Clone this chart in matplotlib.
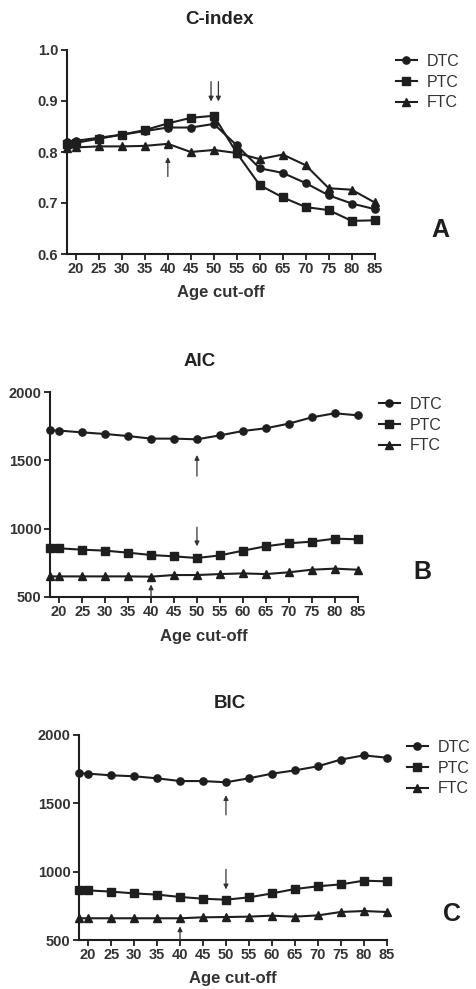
import matplotlib
matplotlib.use("Agg")
import matplotlib.pyplot as plt

plt.rcParams['font.family'] = ['Liberation Sans', 'DejaVu Sans']

# data
ages = [18, 20, 25, 30, 35, 40, 45, 50, 55, 60, 65, 70, 75, 80, 85]
xticks = [20, 25, 30, 35, 40, 45, 50, 55, 60, 65, 70, 75, 80, 85]
series = ['DTC', 'PTC', 'FTC']

cindex_dtc = [0.820, 0.822, 0.828, 0.834, 0.841, 0.848, 0.848, 0.855, 0.813, 0.768, 0.759, 0.739, 0.715, 0.699, 0.688]
cindex_ptc = [0.815, 0.818, 0.826, 0.834, 0.843, 0.856, 0.867, 0.871, 0.798, 0.735, 0.711, 0.692, 0.686, 0.665, 0.666]
cindex_ftc = [0.808, 0.809, 0.811, 0.811, 0.812, 0.816, 0.800, 0.804, 0.798, 0.786, 0.795, 0.774, 0.729, 0.726, 0.701]

aic_dtc = [1721, 1719, 1706, 1694, 1679, 1660, 1660, 1655, 1684, 1716, 1736, 1770, 1816, 1846, 1831]
aic_ptc = [860, 855, 845, 838, 823, 806, 796, 784, 803, 838, 870, 892, 904, 926, 921]
aic_ftc = [649, 649, 649, 649, 649, 647, 659, 659, 666, 671, 666, 679, 698, 706, 698]

bic_dtc = [1720, 1717, 1705, 1698, 1683, 1663, 1663, 1654, 1683, 1717, 1741, 1771, 1820, 1851, 1834]
bic_ptc = [866, 863, 854, 841, 832, 815, 802, 795, 812, 841, 873, 893, 907, 934, 929]
bic_ftc = [659, 659, 659, 659, 659, 659, 666, 668, 671, 678, 671, 680, 705, 712, 705]

W, H = 476, 989
fig = plt.figure(figsize=(W / 100, H / 100), dpi=100)

markers = {'DTC': ('o', 5.2), 'PTC': ('s', 5.4), 'FTC': ('^', 5.2)}
col = '#1e1e1e'


def panel(box, data, ylim, yticks, yfmt, title, title_xy, letter, letter_xy, leg_xy, xlab_y, arrows):
    l, t, r, b = box
    ax = fig.add_axes([l / W, 1 - b / H, (r - l) / W, (b - t) / H])
    for name, ys in zip(series, data):
        m, ms = markers[name]
        ax.plot(ages, ys, marker=m, ms=ms, color=col, lw=1.5, label=name, clip_on=False)
    ax.set_xlim(18, 85)
    ax.set_ylim(*ylim)
    ax.set_xticks(xticks)
    ax.set_yticks(yticks)
    ax.set_yticklabels([yfmt.format(v) for v in yticks])
    for s in ['top', 'right']:
        ax.spines[s].set_visible(False)
    for s in ['left', 'bottom']:
        ax.spines[s].set_linewidth(1.5)
        ax.spines[s].set_color(col)
    ax.tick_params(direction='out', length=4, width=1.3, color=col, pad=2)
    for lab in ax.get_xticklabels() + ax.get_yticklabels():
        lab.set_fontweight('bold')
        lab.set_fontsize(10.5)
        lab.set_color('#333333')
    for (x, y0, y1) in arrows:
        ax.annotate('', xy=(x, y1), xytext=(x, y0),
                    arrowprops=dict(arrowstyle='-|>', lw=0.9, color='#333333', mutation_scale=7,
                                    shrinkA=0, shrinkB=0), annotation_clip=False)
    fig.text(title_xy[0] / W, 1 - title_xy[1] / H, title, ha='center', va='center',
             fontsize=13.5, fontweight='bold', color='#222222')
    fig.text((l + r) / 2 / W, 1 - xlab_y / H, 'Age cut-off', ha='center', va='center',
             fontsize=12, fontweight='bold', color='#333333')
    fig.text(letter_xy[0] / W, 1 - letter_xy[1] / H, letter, ha='center', va='center',
             fontsize=18, fontweight='bold', color='#1e1e1e')
    ax.legend(loc='upper left', bbox_to_anchor=(leg_xy[0] / W, 1 - leg_xy[1] / H),
              bbox_transform=fig.transFigure, frameon=False, fontsize=11.5,
              handlelength=1.3, handletextpad=0.6, labelspacing=0.35, borderpad=0,
              borderaxespad=0, labelcolor='#333333')
    return ax


panel((66.7, 50, 374.7, 254), [cindex_dtc, cindex_ptc, cindex_ftc], (0.6, 1.0),
      [0.6, 0.7, 0.8, 0.9, 1.0], '{:.1f}', 'C-index', (220, 19), 'A', (440, 230),
      (396, 54), 293, [(49.4, 0.938, 0.899), (51.0, 0.938, 0.899), (40, 0.752, 0.790)])

panel((50, 392.3, 357.7, 596.7), [aic_dtc, aic_ptc, aic_ftc], (500, 2000),
      [500, 1000, 1500, 2000], '{:d}', 'AIC', (200, 362), 'B', (422, 572),
      (379, 397), 636, [(50, 1385, 1540), (50, 1010, 870), (40, 500, 590)])

panel((79, 735, 386.7, 940), [bic_dtc, bic_ptc, bic_ftc], (500, 2000),
      [500, 1000, 1500, 2000], '{:d}', 'BIC', (230, 703), 'C', (452, 914),
      (407, 740), 979, [(50, 1415, 1560), (50, 1017, 870), (40, 500, 600)])

fig.savefig('out.png', dpi=100)
